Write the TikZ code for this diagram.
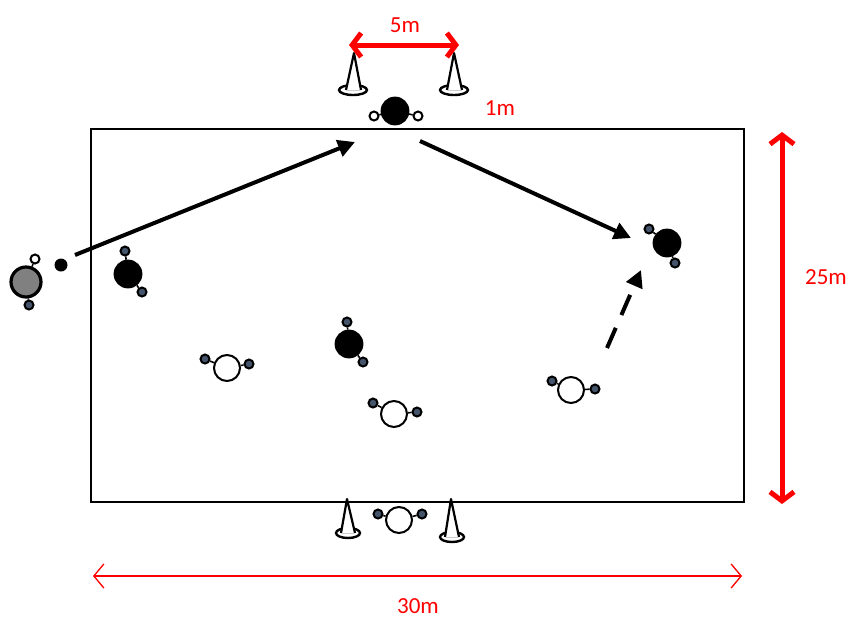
\documentclass[tikz,border=0pt]{standalone}
\usepackage{fontspec}
\setmainfont{Carlito}
\usetikzlibrary{arrows.meta}
\definecolor{knobfill}{HTML}{44546A}

\begin{document}
\begin{tikzpicture}[x=1pt, y=-1pt,
  dark/.style={circle, draw=black, line width=1.8pt, fill=black, minimum size=27pt, inner sep=0pt},
  light/.style={circle, draw=black, line width=2pt, fill=white, minimum size=26pt, inner sep=0pt},
  grey/.style={circle, draw=black, line width=3.2pt, fill=gray, minimum size=30pt, inner sep=0pt},
  knob/.style={circle, draw=black, line width=2pt, fill=knobfill, minimum size=9pt, inner sep=0pt},
  open knob/.style={knob, fill=white},
  stick/.style={line width=1.6pt},
  run/.style={line width=4pt, -{Triangle[length=17pt,width=17pt]}},
  measure/.style={draw=red, line width=5pt, {Straight Barb[length=9pt,width=24pt]}-{Straight Barb[length=9pt,width=24pt]}},
  thin measure/.style={draw=red, line width=1.3pt, {Straight Barb[length=10pt,width=24pt]}-{Straight Barb[length=10pt,width=24pt]}},
  dist/.style={text=red, inner sep=1pt, font=\fontsize{23}{27}\selectfont}]
\useasboundingbox (0,0) rectangle (851,619);
% field
\draw[line width=2pt] (91,129) rectangle (744,502);
% cones
\draw[line width=2.4pt] (353,90) ellipse (14 and 5);
\draw[line width=2.4pt] (454,90) ellipse (14 and 5);
\draw[line width=2.4pt] (348,533) ellipse (12 and 5);
\draw[line width=2.4pt] (452,537) ellipse (12 and 5);
\filldraw[fill=white, line width=2.2pt, line join=round] (346,90) -- (354,53) -- (361,90);
\filldraw[fill=white, line width=2.2pt, line join=round] (447,90) -- (454,53) -- (462,90);
\filldraw[fill=white, line width=2.2pt, line join=round] (341,533) -- (347,499) -- (355,533);
\filldraw[fill=white, line width=2.2pt, line join=round] (445,537) -- (451,499) -- (459,537);
\draw[gray!40, line width=1pt] (347,90) -- (360,90) (448,90) -- (461,90) (342,533) -- (354,533) (446,537) -- (458,537);
% players
\node[open knob] (topk1) at (374,116) {};
\node[open knob] (topk2) at (418,116) {};
\node[dark] (top) at (395,111) {};
\draw[stick] (top) -- (topk1) (top) -- (topk2);
\node[open knob] (passerk1) at (35,259) {};
\node[knob] (passerk2) at (29,305) {};
\node[grey] (passer) at (26,282) {};
\draw[stick] (passer) -- (passerk1) (passer) -- (passerk2);
\node[circle, fill=black, minimum size=13pt, inner sep=0pt] (ball) at (61,265) {};
\node[knob] (leftk1) at (125,251) {};
\node[knob] (leftk2) at (142,292) {};
\node[dark] (left) at (128,274) {};
\draw[stick] (left) -- (leftk1) (left) -- (leftk2);
\node[knob] (midk1) at (347,322) {};
\node[knob] (midk2) at (363,362) {};
\node[dark] (mid) at (349,344) {};
\draw[stick] (mid) -- (midk1) (mid) -- (midk2);
\node[knob] (rightk1) at (649,229) {};
\node[knob] (rightk2) at (675,263) {};
\node[dark] (right) at (667,243) {};
\draw[stick] (right) -- (rightk1) (right) -- (rightk2);
\node[knob] (wak1) at (205,359) {};
\node[knob] (wak2) at (249,364) {};
\node[light] (wa) at (227,368) {};
\draw[stick] (wa) -- (wak1) (wa) -- (wak2);
\node[knob] (wbk1) at (373,403) {};
\node[knob] (wbk2) at (417,412) {};
\node[light] (wb) at (394,414) {};
\draw[stick] (wb) -- (wbk1) (wb) -- (wbk2);
\node[knob] (wck1) at (552,381) {};
\node[knob] (wck2) at (595,389) {};
\node[light] (wc) at (571,390) {};
\draw[stick] (wc) -- (wck1) (wc) -- (wck2);
\node[knob] (wdk1) at (378,514) {};
\node[knob] (wdk2) at (422,514) {};
\node[light] (wd) at (399,520) {};
\draw[stick] (wd) -- (wdk1) (wd) -- (wdk2);
% movements
\coordinate (pass a) at (75,255);
\coordinate (pass b) at (355,142);
\coordinate (pass c) at (420,141);
\coordinate (pass d) at (631,238);
\coordinate (run a) at (607,348);
\coordinate (run b) at (641,270);
\draw[run] (pass a) -- (pass b);
\draw[run] (pass c) -- (pass d);
\draw[run, dash pattern=on 22pt off 14pt] (run a) -- (run b);
% distances
\coordinate (w1) at (349,45);
\coordinate (w2) at (459,45);
\coordinate (h1) at (782,132);
\coordinate (h2) at (782,504);
\coordinate (l1) at (93,576);
\coordinate (l2) at (742,576);
\draw[measure] (w1) -- (w2);
\draw[measure] (h1) -- (h2);
\draw[thin measure] (l1) -- (l2);
\node[dist] (width) at (405,25) {5m};
\node[dist] (gap) at (500,108) {1m};
\node[dist] (height) at (826,277) {25m};
\node[dist] (length) at (418,606) {30m};
\end{tikzpicture}
\end{document}
